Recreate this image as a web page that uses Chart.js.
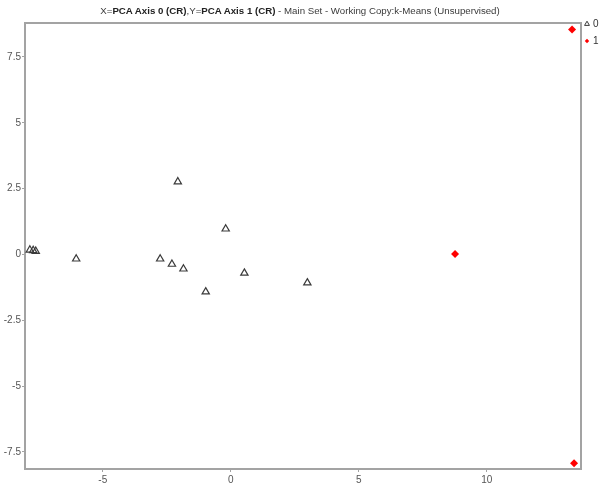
<!DOCTYPE html>
<html>
<head>
<meta charset="utf-8">
<script src="https://cdn.jsdelivr.net/npm/chart.js@4/dist/chart.umd.min.js"></script>
<style>
  html, body { margin: 0; padding: 0; background: #fff; }
  #wrap { position: relative; width: 600px; height: 486px; }
  #title {
    position: absolute; left: 0; top: 5px; width: 600px; text-align: center;
    font: 9.7px "Liberation Sans", Arial, sans-serif; color: #3a3a3a; white-space: nowrap;
  }
  #title b { color: #222; }
</style>
</head>
<body>
<div id="wrap">
  <div id="title">X=<b>PCA Axis 0 (CR)</b>,Y=<b>PCA Axis 1 (CR)</b> - Main Set - Working Copy:k-Means (Unsupervised)</div>
  <canvas id="plot" width="600" height="486"></canvas>
</div>
<script>
// cluster 0 (triangles)
var cluster0X = [-7.85, -7.72, -7.62, -6.04, -2.76, -2.30, -1.85, -2.07, -0.20, -0.98, 0.53, 2.99];
var cluster0Y = [0.17, 0.15, 0.12, -0.17, -0.17, -0.37, -0.55, 2.76, 0.97, -1.42, -0.71, -1.08];
// cluster 1 (red diamonds)
var cluster1X = [13.33, 8.76, 13.41];
var cluster1Y = [8.54, 0.02, -7.93];

var legendLabels = ["0", "1"];
var xTicks = [-5, 0, 5, 10];
var yTicks = [-7.5, -5, -2.5, 0, 2.5, 5, 7.5];

var axisGray = "#a3a3a3";
var labelFont = { family: "'Liberation Sans', Arial, sans-serif", size: 10 };

function toPoints(xs, ys) {
  var out = [];
  for (var i = 0; i < xs.length; i++) out.push({ x: xs[i], y: ys[i] });
  return out;
}

// top + right edges of the box, and the little legend outside the plot
var framePlugin = {
  id: "frame",
  afterDraw: function (chart) {
    var ctx = chart.ctx, a = chart.chartArea;
    ctx.save();
    ctx.strokeStyle = axisGray;
    ctx.lineWidth = 2;
    ctx.beginPath();
    ctx.moveTo(a.left, a.top);
    ctx.lineTo(a.right, a.top);
    ctx.lineTo(a.right, a.bottom);
    ctx.stroke();

    var lx = a.right + 6, ly = [24, 41];
    chart.data.datasets.forEach(function (ds, i) {
      ctx.fillStyle = ds.backgroundColor;
      ctx.strokeStyle = ds.borderColor;
      ctx.lineWidth = 1;
      Chart.helpers.drawPoint(ctx, {
        pointStyle: ds.pointStyle,
        radius: i === 0 ? 2.8 : 2.2,
        borderWidth: i === 0 ? 1 : 0
      }, lx, ly[i]);
      ctx.fillStyle = "#333";
      ctx.font = "10px 'Liberation Sans', Arial, sans-serif";
      ctx.textBaseline = "middle";
      ctx.fillText(legendLabels[i], lx + 6, ly[i]);
    });
    ctx.restore();
  }
};

new Chart(document.getElementById("plot"), {
  type: "scatter",
  data: {
    datasets: [{
      label: legendLabels[0],
      data: toPoints(cluster0X, cluster0Y),
      pointStyle: "triangle",
      pointRadius: 4.2,
      pointHoverRadius: 4.2,
      backgroundColor: "rgba(0,0,0,0)",
      borderColor: "#3a3a3a",
      borderWidth: 1.2
    }, {
      label: legendLabels[1],
      data: toPoints(cluster1X, cluster1Y),
      pointStyle: "rectRot",
      pointRadius: 4,
      pointHoverRadius: 4,
      backgroundColor: "#ff0000",
      borderColor: "#ff0000",
      borderWidth: 0
    }]
  },
  options: {
    responsive: false,
    animation: false,
    layout: { padding: { top: 23, right: 19, left: 0, bottom: 0 } },
    plugins: {
      legend: { display: false },
      title: { display: false },
      tooltip: { enabled: false }
    },
    scales: {
      x: {
        type: "linear",
        min: -8.04,
        max: 13.68,
        afterFit: function (s) { s.height = 17; },
        afterBuildTicks: function (s) { s.ticks = xTicks.map(function (v) { return { value: v }; }); },
        grid: { drawOnChartArea: false, drawTicks: true, tickLength: 3, color: axisGray },
        border: { display: true, color: axisGray, width: 2 },
        ticks: { font: labelFont, color: "#555", padding: 2, maxRotation: 0,
          callback: function (v) { return String(v); } }
      },
      y: {
        type: "linear",
        min: -8.15,
        max: 8.79,
        afterFit: function (s) { s.width = 25; },
        afterBuildTicks: function (s) { s.ticks = yTicks.map(function (v) { return { value: v }; }); },
        grid: { drawOnChartArea: false, drawTicks: true, tickLength: 3, color: axisGray },
        border: { display: true, color: axisGray, width: 2 },
        ticks: { font: labelFont, color: "#555", padding: 1,
          callback: function (v) { return String(v); } }
      }
    }
  },
  plugins: [framePlugin]
});
</script>
</body>
</html>
